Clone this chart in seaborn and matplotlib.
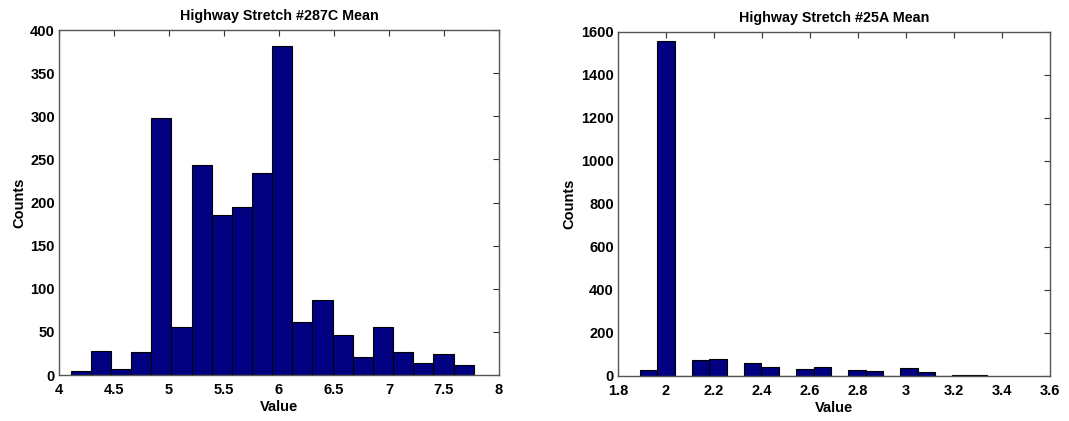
"""
Histograms of mean values for two highway stretches (MATLAB-like look)
"""

import numpy as np
import pandas as pd
import matplotlib
matplotlib.use("Agg")
import matplotlib.pyplot as plt
import seaborn as sns

sns.set_style("white")
plt.rcParams["font.family"] = ["Liberation Sans", "DejaVu Sans"]
plt.rcParams["font.weight"] = "bold"
plt.rcParams["axes.labelweight"] = "bold"
plt.rcParams["axes.titleweight"] = "bold"
plt.rcParams["text.color"] = "black"
plt.rcParams["axes.labelcolor"] = "black"
plt.rcParams["xtick.color"] = "black"
plt.rcParams["ytick.color"] = "black"

# --- data ---
left_title = "Highway Stretch #287C Mean"
left_range = (4.106, 7.77)
left_counts = [5, 28, 7, 27, 298, 56, 244, 186, 195, 234,
               382, 62, 87, 47, 21, 56, 27, 14, 25, 12]
left_xticks = [4, 4.5, 5, 5.5, 6, 6.5, 7, 7.5, 8]
left_xticklabels = ["4", "4.5", "5", "5.5", "6", "6.5", "7", "7.5", "8"]
left_yticks = [0, 50, 100, 150, 200, 250, 300, 350, 400]

right_title = "Highway Stretch #25A Mean"
right_range = (1.892, 3.339)
right_counts = [28, 1560, 0, 73, 79, 0, 59, 42, 0, 33,
                40, 0, 28, 23, 0, 36, 19, 0, 4, 3]
right_xticks = [1.8, 2, 2.2, 2.4, 2.6, 2.8, 3, 3.2, 3.4, 3.6]
right_xticklabels = ["1.8", "2", "2.2", "2.4", "2.6", "2.8", "3", "3.2", "3.4", "3.6"]
right_yticks = [0, 200, 400, 600, 800, 1000, 1200, 1400, 1600]

BAR_COLOR = "#000080"


def draw_hist(ax, counts, value_range, title, xticks, xticklabels, yticks):
    lo, hi = value_range
    n = len(counts)
    width = (hi - lo) / n
    centers = lo + width * (np.arange(n) + 0.5)
    df = pd.DataFrame({"value": centers, "count": counts})

    sns.histplot(
        data=df, x="value", weights="count",
        bins=n, binrange=(lo, hi),
        color=BAR_COLOR, alpha=1.0,
        edgecolor="black", linewidth=0.8,
        ax=ax,
    )

    ax.set_xlim(xticks[0], xticks[-1])
    ax.set_ylim(yticks[0], yticks[-1])
    ax.set_xticks(xticks)
    ax.set_xticklabels(xticklabels)
    ax.set_yticks(yticks)
    ax.set_title(title, fontsize=10.3, pad=7)
    ax.set_xlabel("Value", fontsize=10.5, labelpad=2)
    ax.set_ylabel("Counts", fontsize=10.5, labelpad=3)
    ax.tick_params(direction="in", top=True, right=True, length=4,
                   width=0.8, labelsize=10.5, color="#333333",
                   labelcolor="black")
    ax.tick_params(axis="x", pad=6)
    ax.tick_params(axis="y", pad=3)
    for spine in ax.spines.values():
        spine.set_visible(True)
        spine.set_color("#555555")
        spine.set_linewidth(1.0)


fig = plt.figure(figsize=(10.69, 4.21), dpi=100)
ax_left = fig.add_axes([0.0552, 0.109, 0.4116, 0.8197])
ax_right = fig.add_axes([0.578, 0.107, 0.404, 0.817])

draw_hist(ax_left, left_counts, left_range, left_title,
          left_xticks, left_xticklabels, left_yticks)
draw_hist(ax_right, right_counts, right_range, right_title,
          right_xticks, right_xticklabels, right_yticks)

fig.savefig("out.png", dpi=100)
plt.close(fig)
